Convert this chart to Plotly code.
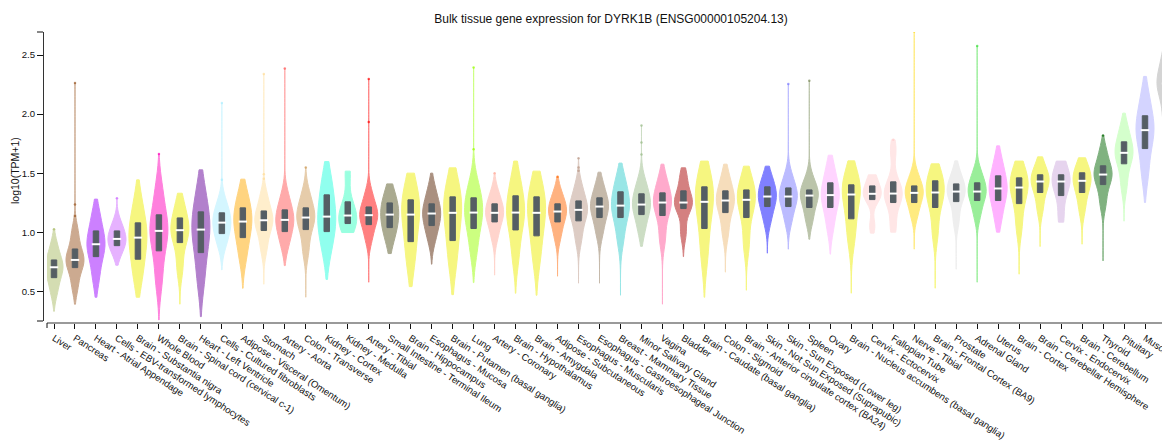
import plotly.graph_objects as go

tissues = [
    "Liver", "Pancreas", "Heart - Atrial Appendage", "Cells - EBV-transformed lymphocytes",
    "Brain - Substantia nigra", "Whole Blood", "Brain - Spinal cord (cervical c-1)",
    "Heart - Left Ventricle", "Cells - Cultured fibroblasts", "Adipose - Visceral (Omentum)",
    "Stomach", "Artery - Aorta", "Colon - Transverse", "Kidney - Cortex", "Kidney - Medulla",
    "Artery - Tibial", "Small Intestine - Terminal Ileum", "Brain - Hippocampus",
    "Esophagus - Mucosa", "Brain - Putamen (basal ganglia)", "Lung", "Artery - Coronary",
    "Brain - Hypothalamus", "Brain - Amygdala", "Adipose - Subcutaneous", "Esophagus - Muscularis",
    "Esophagus - Gastroesophageal Junction", "Breast - Mammary Tissue", "Minor Salivary Gland",
    "Vagina", "Bladder", "Brain - Caudate (basal ganglia)", "Colon - Sigmoid",
    "Brain - Anterior cingulate cortex (BA24)", "Skin - Not Sun Exposed (Suprapubic)",
    "Skin - Sun Exposed (Lower leg)", "Spleen", "Ovary", "Brain - Nucleus accumbens (basal ganglia)",
    "Cervix - Ectocervix", "Fallopian Tube", "Nerve - Tibial", "Brain - Frontal Cortex (BA9)",
    "Prostate", "Adrenal Gland", "Uterus", "Brain - Cortex", "Brain - Cerebellar Hemisphere",
    "Cervix - Endocervix", "Brain - Cerebellum", "Thyroid", "Pituitary", "Muscle - Skeletal", "Testis",
]

colors = [
    "#AABB66", "#995522", "#9900FF", "#CC66FF", "#EEEE00", "#FF00BB", "#EEEE00", "#660099",
    "#AAEEFF", "#FFAA00", "#FFDD99", "#FF5555", "#CC9955", "#22FFDD", "#33FFC2", "#FF0000",
    "#555522", "#EEEE00", "#552200", "#EEEE00", "#99FF00", "#FFAA99", "#EEEE00", "#EEEE00",
    "#FF6600", "#BB9988", "#8B7355", "#33CCCC", "#99BB88", "#FF5599", "#AA0000", "#EEEE00",
    "#EEBB77", "#EEEE00", "#0000FF", "#7777FF", "#778855", "#FFAAFF", "#EEEE00", "#FFCCCC",
    "#FFCCCC", "#FFD700", "#EEEE00", "#DDDDDD", "#33DD33", "#FF66FF", "#EEEE00", "#EEEE00",
    "#CCAADD", "#EEEE00", "#006600", "#AAFF99", "#AAAAFF", "#AAAAAA",
]

v_min = [0.33, 0.39, 0.449, 0.72, 0.449, 0.257, 0.39, 0.285, 0.68, 0.525,
         0.559, 0.717, 0.449, 0.60, 0.997, 0.576, 0.819, 0.539, 0.729, 0.471,
         0.573, 0.636, 0.483, 0.466, 0.627, 0.568, 0.568, 0.466, 0.88, 0.39,
         0.793, 0.449, 0.661, 0.508, 0.822, 0.856, 0.94, 0.814, 0.483, 0.992,
         1.0, 0.856, 0.525, 0.686, 0.576, 1.0, 0.644, 0.878, 1.085, 0.898,
         0.757, 1.093, 1.251, 1.70]
v_lo = [0.50, 0.55, 0.62, 0.82, 0.62, 0.60, 0.70, 0.60, 0.90, 0.80,
        0.87, 0.90, 0.85, 0.85, 1.00, 0.95, 0.95, 0.75, 0.95, 0.75,
        0.85, 0.97, 0.80, 0.78, 0.97, 0.95, 1.00, 0.95, 1.02, 0.95,
        1.00, 0.80, 1.00, 0.90, 1.10, 1.10, 1.10, 1.05, 0.95, 1.05,
        1.05, 1.15, 1.00, 1.10, 1.15, 1.12, 1.05, 1.20, 1.12, 1.20,
        1.25, 1.40, 1.50, 1.95]
v_q1 = [0.615, 0.70, 0.793, 0.886, 0.771, 0.842, 0.912, 0.827, 0.988, 0.954,
        1.014, 1.005, 1.022, 1.005, 1.073, 1.064, 1.039, 0.92, 1.056, 0.929,
        1.031, 1.087, 1.019, 0.969, 1.087, 1.096, 1.124, 1.124, 1.149, 1.141,
        1.20, 1.031, 1.166, 1.124, 1.217, 1.217, 1.209, 1.209, 1.113, 1.276,
        1.251, 1.251, 1.209, 1.259, 1.268, 1.268, 1.242, 1.336, 1.31, 1.336,
        1.403, 1.579, 1.708, 2.15]
v_med = [0.703, 0.765, 0.898, 0.943, 0.954, 1.011, 1.017, 1.022, 1.081, 1.09,
         1.101, 1.104, 1.124, 1.132, 1.141, 1.144, 1.149, 1.149, 1.158, 1.164,
         1.166, 1.164, 1.166, 1.164, 1.175, 1.189, 1.217, 1.225, 1.234, 1.251,
         1.251, 1.257, 1.268, 1.274, 1.302, 1.302, 1.31, 1.314, 1.319, 1.325,
         1.327, 1.333, 1.336, 1.344, 1.344, 1.37, 1.378, 1.429, 1.429, 1.435,
         1.488, 1.672, 1.864, 2.26]
v_q3 = [0.765, 0.858, 1.011, 1.011, 1.079, 1.147, 1.121, 1.172, 1.164, 1.206,
        1.18, 1.189, 1.206, 1.316, 1.257, 1.214, 1.248, 1.274, 1.24, 1.299,
        1.291, 1.24, 1.308, 1.299, 1.24, 1.265, 1.291, 1.342, 1.325, 1.333,
        1.35, 1.384, 1.35, 1.358, 1.384, 1.375, 1.358, 1.418, 1.401, 1.392,
        1.426, 1.392, 1.435, 1.409, 1.418, 1.477, 1.46, 1.486, 1.486, 1.503,
        1.562, 1.765, 1.986, 2.36]
v_hi = [0.88, 1.00, 1.15, 1.08, 1.25, 1.35, 1.24, 1.35, 1.25, 1.32,
        1.30, 1.30, 1.32, 1.45, 1.50, 1.32, 1.33, 1.40, 1.36, 1.42,
        1.40, 1.33, 1.45, 1.42, 1.33, 1.38, 1.40, 1.45, 1.42, 1.45,
        1.48, 1.50, 1.47, 1.47, 1.47, 1.47, 1.45, 1.55, 1.50, 1.47,
        1.70, 1.48, 1.52, 1.50, 1.50, 1.60, 1.55, 1.57, 1.60, 1.58,
        1.68, 1.88, 2.15, 2.50]
v_max = [1.025, 2.263, 1.28, 1.288, 1.443, 1.661, 1.33, 1.528, 2.093, 1.449,
         2.339, 2.387, 1.548, 1.598, 1.517, 2.297, 1.409, 1.50, 1.50, 1.545,
         2.395, 1.50, 1.602, 1.517, 1.469, 1.627, 1.508, 1.585, 1.903, 1.576,
         1.545, 1.602, 1.576, 1.559, 1.559, 2.254, 2.282, 1.652, 1.604, 1.486,
         1.782, 2.70, 1.579, 1.604, 2.576, 1.731, 1.602, 1.638, 1.602, 1.63,
         1.819, 2.008, 2.319, 2.75]
outliers = [
    [1.025], [1.138, 1.234, 2.263], [], [1.288], [], [1.661], [], [], [1.443, 2.093], [],
    [1.452, 1.49, 2.339], [2.387], [1.548], [], [], [1.932, 2.297], [], [], [], [],
    [1.703, 2.395], [1.50], [], [], [1.469], [1.52, 1.548, 1.627], [], [], [1.658, 1.76, 1.903], [],
    [], [], [], [], [], [2.254], [2.282], [], [], [],
    [1.782], [2.70], [], [], [2.576], [], [], [], [], [],
    [1.819], [], [], [],
]

y_tick_vals = [0.5, 1.0, 1.5, 2.0, 2.5]
y_tick_text = ["0.5", "1.0", "1.5", "2.0", "2.5"]

TITLE = "Bulk tissue gene expression for DYRK1B (ENSG00000105204.13)"
FONT = "Liberation Sans, Arial, Helvetica, sans-serif"
BOX_COLOR = "#555e64"


def fade(hex_color, alpha=0.5):
    h = hex_color.lstrip("#")
    r, g, b = (int(h[i:i + 2], 16) for i in (0, 2, 4))
    mix = lambda c: round(c * alpha + 255 * (1 - alpha))
    return f"rgb({mix(r)},{mix(g)},{mix(b)})"


def rgba(hex_color, a):
    h = hex_color.lstrip("#")
    r, g, b = (int(h[i:i + 2], 16) for i in (0, 2, 4))
    return f"rgba({r},{g},{b},{a})"


fig = go.Figure()

for i, name in enumerate(tissues):
    samples = [v_lo[i], v_q1[i], v_med[i], v_med[i], v_q3[i], v_hi[i]]
    bw = 0.42 * (v_q3[i] - v_q1[i]) + 0.02
    fc = fade(colors[i])
    fig.add_trace(go.Violin(
        x=[name] * len(samples), y=samples,
        spanmode="manual", span=[v_min[i], v_max[i]], bandwidth=bw,
        width=0.86, scalemode="width", points=False,
        box_visible=False, meanline_visible=False,
        fillcolor=fc, line=dict(color=fc, width=1),
        hoverinfo="skip", showlegend=False,
    ))

fig.add_trace(go.Box(
    x=tissues, q1=v_q1, median=v_med, q3=v_q3,
    lowerfence=v_q1, upperfence=v_q3,
    fillcolor=BOX_COLOR, line=dict(color=BOX_COLOR, width=1),
    width=0.26, whiskerwidth=0, boxpoints=False,
    hoverinfo="skip", showlegend=False,
))

fig.add_trace(go.Scatter(
    x=tissues, y=v_med, mode="markers",
    marker=dict(symbol="line-ew", size=6, line=dict(color="white", width=2)),
    hoverinfo="skip", showlegend=False,
))

ox, oy, oc = [], [], []
for i, vals in enumerate(outliers):
    for v in vals:
        ox.append(tissues[i])
        oy.append(v)
        oc.append(rgba(colors[i], 0.7))
fig.add_trace(go.Scatter(
    x=ox, y=oy, mode="markers",
    marker=dict(size=2.5, color=oc, line=dict(width=0)),
    hoverinfo="skip", showlegend=False,
))

W, H = 1162, 441
ML, MT, MB = 43, 32, 118
PW = W - ML
PH = H - MT - MB

outer_tick = dict(color="#111111", width=1)

fig.update_layout(
    width=W, height=H,
    margin=dict(l=ML, r=0, t=MT, b=MB, pad=0, autoexpand=False),
    paper_bgcolor="white", plot_bgcolor="white",
    violinmode="overlay", boxmode="overlay",
    font=dict(family=FONT, color="#111111", size=10),
    title=dict(text=TITLE, x=611 / W, y=1 - 19 / H, xref="container", yref="container",
               xanchor="center", yanchor="middle", font=dict(size=12, color="#111111")),
    xaxis=dict(
        type="category", categoryorder="array", categoryarray=tissues,
        range=[-0.334, 52.81], autorange=False, automargin=False,
        domain=[4 / PW, 1], anchor="free", position=0,
        showline=True, linecolor="#9a9a9a", linewidth=2,
        ticks="outside", ticklen=5, tickwidth=1, tickcolor="#111111",
        tickangle=33, tickfont=dict(size=9.6, family=FONT, color="#111111"),
        showgrid=False, zeroline=False, fixedrange=True,
    ),
    yaxis=dict(
        range=[0.248, 2.695], autorange=False, automargin=False,
        domain=[2 / PH, 1], anchor="free", position=0,
        showline=True, linecolor="#333333", linewidth=1,
        ticks="outside", ticklen=6, tickwidth=1, tickcolor="#111111",
        tickvals=y_tick_vals, ticktext=y_tick_text,
        tickfont=dict(size=9.6, family=FONT, color="#111111"),
        showgrid=False, zeroline=False, fixedrange=True,
    ),
    annotations=[dict(
        text="log10(TPM+1)", xref="paper", yref="paper",
        x=(15 - ML) / PW, y=(H - MB - 170) / PH, xanchor="center", yanchor="middle",
        textangle=-90, showarrow=False, font=dict(size=10.5, family=FONT, color="#111111"),
    )],
    shapes=[
        dict(type="line", xref="x domain", x0=0, x1=0, yref="paper", ysizemode="pixel",
             yanchor=0, y0=0, y1=-5, line=outer_tick),
        dict(type="line", yref="y domain", y0=1, y1=1, xref="paper", xsizemode="pixel",
             xanchor=0, x0=0, x1=-6, line=outer_tick),
        dict(type="line", yref="y domain", y0=0, y1=0, xref="paper", xsizemode="pixel",
             xanchor=0, x0=0, x1=-6, line=outer_tick),
    ],
)

fig.write_html("out.html", config={"displayModeBar": False},
               post_script="document.body.style.margin='0';document.body.style.overflow='hidden';")
